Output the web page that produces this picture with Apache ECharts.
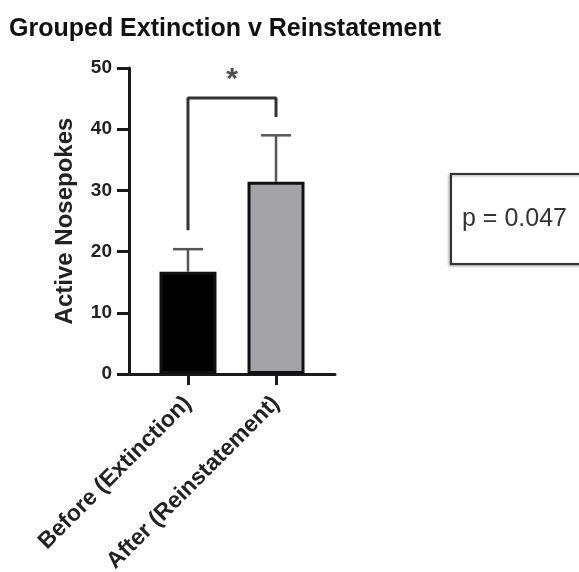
<!DOCTYPE html>
<html>
<head>
<meta charset="utf-8">
<script src="https://cdn.jsdelivr.net/npm/echarts@6/dist/echarts.min.js"></script>
<style>html,body{margin:0;padding:0;background:#fff;}#c{width:579px;height:572px;}</style>
</head>
<body>
<div id="c"></div>
<script>
// ---- data ----
var categories = ['Before (Extinction)', 'After (Reinstatement)'];
var means = [16.7, 31.4];
var errorTops = [20.4, 39.0];
var barColors = ['#000000', '#a4a3a8'];
var yTicks = [0, 10, 20, 30, 40, 50];
var bracketLeftBottom = 23.5;
var bracketTop = 45.1;
var bracketRightBottom = 42.0;
var starLevel = 48.1;
var pText = 'p = 0.047';

var positions = categories.map(function (c, i) { return i + 1; });

var chart = echarts.init(document.getElementById('c'), null, {renderer: 'canvas'});
var FONT = 'Liberation Sans';

var option = {
  animation: false,
  backgroundColor: '#ffffff',
  title: [{
    text: 'Grouped Extinction v Reinstatement',
    left: 9, top: 17,
    padding: 0,
    textStyle: {fontFamily: FONT, fontWeight: 'bold', fontSize: 25, color: '#111'}
  }, {
    text: pText,
    left: 451, top: 174,
    padding: [33, 40, 32, 11],
    borderColor: '#333', borderWidth: 2,
    shadowColor: 'rgba(0,0,0,0.35)', shadowBlur: 3, shadowOffsetX: -1, shadowOffsetY: 1,
    backgroundColor: '#fff',
    textStyle: {fontFamily: FONT, fontWeight: 'normal', fontSize: 25, color: '#333'}
  }],
  grid: {left: 129, right: 244, top: 68, bottom: 198, containLabel: false, outerBoundsMode: 'none'},
  xAxis: {
    type: 'value',
    min: 0.33, max: 2.67,
    splitLine: {show: false},
    axisLine: {show: true, onZero: false, lineStyle: {color: '#1a1a1a', width: 3}},
    axisTick: {show: true, customValues: positions, length: 11, lineStyle: {color: '#1a1a1a', width: 3}},
    axisLabel: {
      show: true, customValues: positions, rotate: 45, margin: 26,
      fontFamily: FONT, fontWeight: 'bold', fontSize: 23, color: '#222',
      formatter: function (v) { return categories[Math.round(v) - 1] || ''; }
    }
  },
  yAxis: {
    type: 'value', min: 0, max: 50, interval: 10,
    name: 'Active Nosepokes', nameLocation: 'middle', nameGap: 52, nameRotate: 90,
    nameTextStyle: {fontFamily: FONT, fontWeight: 'bold', fontSize: 24, color: '#222'},
    splitLine: {show: false},
    axisLine: {show: true, lineStyle: {color: '#1a1a1a', width: 3}},
    axisTick: {show: true, inside: false, length: 12, lineStyle: {color: '#1a1a1a', width: 3}},
    axisLabel: {margin: 17, fontFamily: FONT, fontWeight: 'bold', fontSize: 19, color: '#222'}
  },
  series: [
    {
      type: 'bar',
      barWidth: 57,
      data: means.map(function (m, i) {
        return {value: [positions[i], m], itemStyle: {color: barColors[i], borderColor: '#111', borderWidth: 3}};
      }),
      z: 2
    },
    {
      type: 'custom',
      z: 3,
      data: means.map(function (m, i) { return [positions[i], m, errorTops[i]]; }),
      renderItem: function (params, api) {
        var base = api.coord([api.value(0), api.value(1)]);
        var top = api.coord([api.value(0), api.value(2)]);
        var hw = 15;
        return {
          type: 'group',
          children: [
            {type: 'line', shape: {x1: base[0], y1: base[1], x2: top[0], y2: top[1]}, style: {stroke: '#555', lineWidth: 2.5}},
            {type: 'line', shape: {x1: top[0] - hw, y1: top[1], x2: top[0] + hw, y2: top[1]}, style: {stroke: '#555', lineWidth: 2.5}}
          ]
        };
      }
    },
    {
      type: 'line',
      z: 3,
      symbol: 'none',
      lineStyle: {color: '#333', width: 3},
      data: [[positions[0], bracketLeftBottom], [positions[0], bracketTop], [positions[1], bracketTop], [positions[1], bracketRightBottom]]
    },
    {
      type: 'scatter',
      symbolSize: 0,
      data: [[(positions[0] + positions[1]) / 2, starLevel]],
      label: {show: true, position: 'inside', formatter: '*', fontFamily: FONT, fontWeight: 'bold', fontSize: 30, color: '#222'}
    }
  ]
};
chart.setOption(option);
</script>
</body>
</html>
